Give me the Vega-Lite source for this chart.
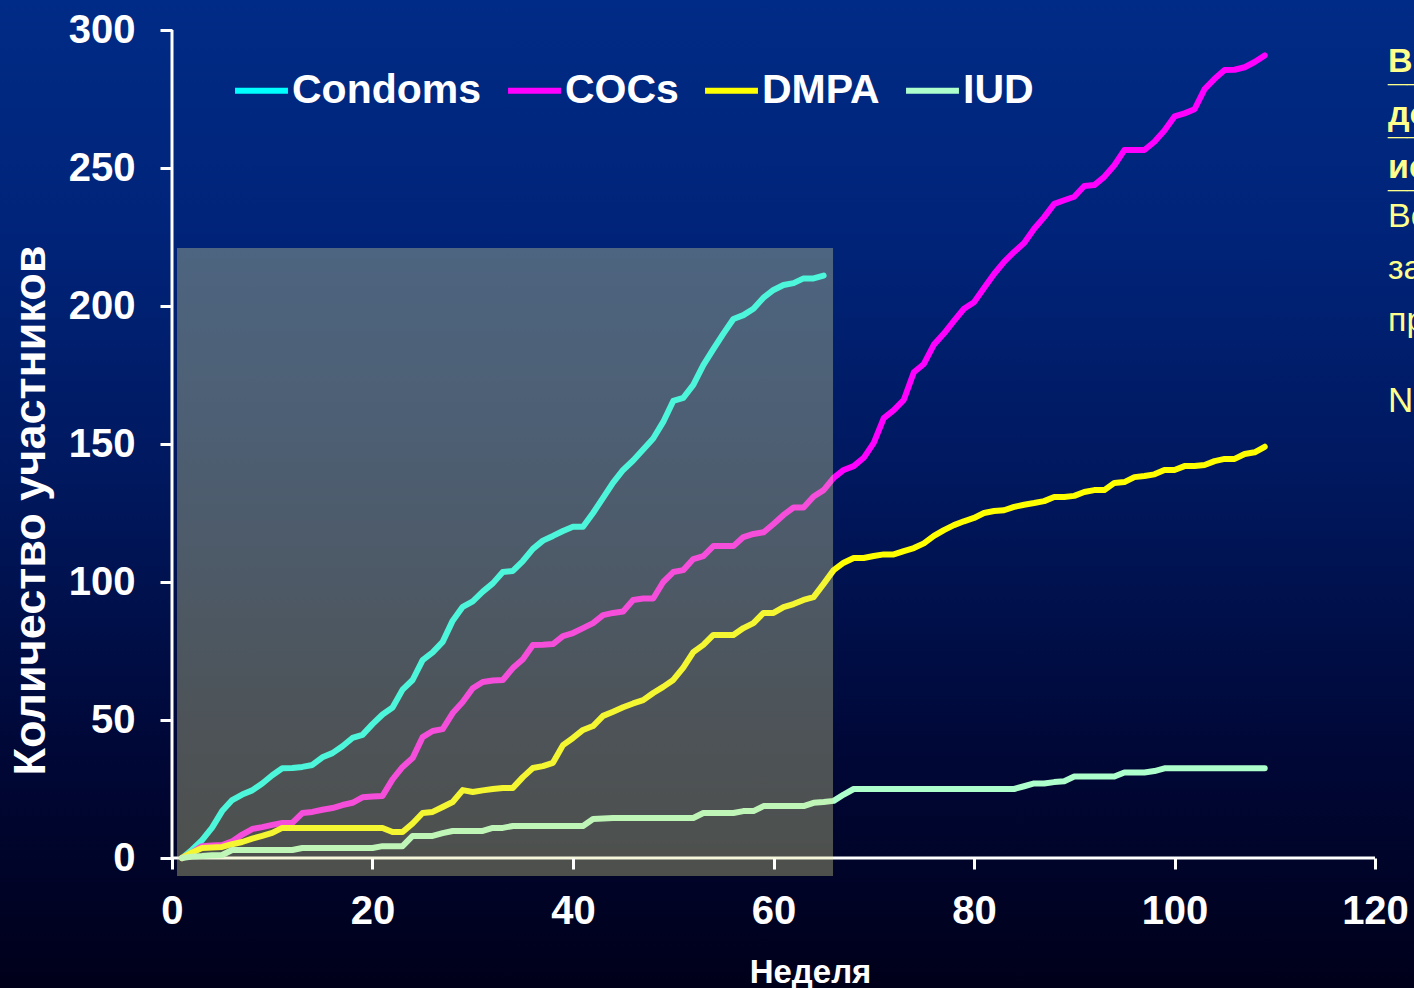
{
  "$schema": "https://vega.github.io/schema/vega-lite/v6.json",
  "width": 1414,
  "height": 988,
  "autosize": {"type": "none"},
  "padding": 0,
  "background": "#000a3a",
  "config": {"view": {"stroke": null}, "font": "Liberation Sans"},
  "datasets": {"weekly": [
    {"week":1,"Condoms":0,"COCs":0,"DMPA":0,"IUD":0},
    {"week":2,"Condoms":3,"COCs":2,"DMPA":2,"IUD":0.5},
    {"week":3,"Condoms":6.5,"COCs":4.3,"DMPA":3.6,"IUD":0.7},
    {"week":4,"Condoms":11,"COCs":4.5,"DMPA":3.8,"IUD":1},
    {"week":5,"Condoms":17,"COCs":4.7,"DMPA":4,"IUD":1.1},
    {"week":6,"Condoms":21,"COCs":6,"DMPA":5,"IUD":2.9},
    {"week":7,"Condoms":23,"COCs":8.5,"DMPA":5.8,"IUD":2.9},
    {"week":8,"Condoms":24.5,"COCs":10.5,"DMPA":7,"IUD":2.9},
    {"week":9,"Condoms":27,"COCs":11.2,"DMPA":8,"IUD":2.9},
    {"week":10,"Condoms":30,"COCs":12,"DMPA":9.1,"IUD":2.9},
    {"week":11,"Condoms":32.5,"COCs":12.7,"DMPA":10.9,"IUD":2.9},
    {"week":12,"Condoms":32.6,"COCs":12.7,"DMPA":10.9,"IUD":2.9},
    {"week":13,"Condoms":33,"COCs":16.3,"DMPA":10.9,"IUD":3.6},
    {"week":14,"Condoms":33.7,"COCs":16.7,"DMPA":10.9,"IUD":3.6},
    {"week":15,"Condoms":36.5,"COCs":17.5,"DMPA":10.9,"IUD":3.6},
    {"week":16,"Condoms":38,"COCs":18.1,"DMPA":10.9,"IUD":3.6},
    {"week":17,"Condoms":40.5,"COCs":19.2,"DMPA":10.9,"IUD":3.6},
    {"week":18,"Condoms":43.5,"COCs":20,"DMPA":10.9,"IUD":3.6},
    {"week":19,"Condoms":44.6,"COCs":22,"DMPA":10.9,"IUD":3.6},
    {"week":20,"Condoms":48.5,"COCs":22.3,"DMPA":10.9,"IUD":3.6},
    {"week":21,"Condoms":52,"COCs":22.5,"DMPA":10.9,"IUD":4.3},
    {"week":22,"Condoms":54.5,"COCs":28.5,"DMPA":9.4,"IUD":4.3},
    {"week":23,"Condoms":61,"COCs":33,"DMPA":9.4,"IUD":4.3},
    {"week":24,"Condoms":64.5,"COCs":36.2,"DMPA":12.5,"IUD":8},
    {"week":25,"Condoms":71.7,"COCs":43.8,"DMPA":16.3,"IUD":8},
    {"week":26,"Condoms":74.5,"COCs":46,"DMPA":16.7,"IUD":8},
    {"week":27,"Condoms":78.3,"COCs":46.7,"DMPA":18.5,"IUD":9},
    {"week":28,"Condoms":86,"COCs":52.5,"DMPA":20.3,"IUD":9.8},
    {"week":29,"Condoms":91,"COCs":56.5,"DMPA":24.6,"IUD":9.8},
    {"week":30,"Condoms":93,"COCs":61.5,"DMPA":23.9,"IUD":9.8},
    {"week":31,"Condoms":96.5,"COCs":63.8,"DMPA":24.5,"IUD":9.8},
    {"week":32,"Condoms":99.5,"COCs":64.3,"DMPA":25,"IUD":10.9},
    {"week":33,"Condoms":103.6,"COCs":64.5,"DMPA":25.4,"IUD":10.9},
    {"week":34,"Condoms":104,"COCs":68.8,"DMPA":25.4,"IUD":11.6},
    {"week":35,"Condoms":107.6,"COCs":72,"DMPA":29.3,"IUD":11.6},
    {"week":36,"Condoms":112,"COCs":77.2,"DMPA":32.6,"IUD":11.6},
    {"week":37,"Condoms":115,"COCs":77.3,"DMPA":33.3,"IUD":11.6},
    {"week":38,"Condoms":116.7,"COCs":77.5,"DMPA":34.5,"IUD":11.6},
    {"week":39,"Condoms":118.5,"COCs":80.4,"DMPA":40.9,"IUD":11.6},
    {"week":40,"Condoms":120,"COCs":81.5,"DMPA":43.5,"IUD":11.6},
    {"week":41,"Condoms":120,"COCs":83.3,"DMPA":46.4,"IUD":11.6},
    {"week":42,"Condoms":125,"COCs":85.1,"DMPA":47.8,"IUD":14.1},
    {"week":43,"Condoms":130.5,"COCs":88,"DMPA":51.5,"IUD":14.3},
    {"week":44,"Condoms":136,"COCs":88.8,"DMPA":53,"IUD":14.5},
    {"week":45,"Condoms":140.6,"COCs":89.3,"DMPA":54.6,"IUD":14.5},
    {"week":46,"Condoms":144,"COCs":93.5,"DMPA":56,"IUD":14.5},
    {"week":47,"Condoms":148,"COCs":94,"DMPA":57.2,"IUD":14.5},
    {"week":48,"Condoms":152,"COCs":94,"DMPA":59.8,"IUD":14.5},
    {"week":49,"Condoms":158,"COCs":100,"DMPA":62,"IUD":14.5},
    {"week":50,"Condoms":165.6,"COCs":103.6,"DMPA":64.5,"IUD":14.5},
    {"week":51,"Condoms":166.7,"COCs":104.3,"DMPA":69,"IUD":14.5},
    {"week":52,"Condoms":171.4,"COCs":108.3,"DMPA":74.6,"IUD":14.5},
    {"week":53,"Condoms":178.6,"COCs":109.4,"DMPA":77.2,"IUD":16.3},
    {"week":54,"Condoms":184.4,"COCs":113,"DMPA":80.8,"IUD":16.3},
    {"week":55,"Condoms":190,"COCs":113,"DMPA":80.8,"IUD":16.3},
    {"week":56,"Condoms":195.3,"COCs":113,"DMPA":80.8,"IUD":16.3},
    {"week":57,"Condoms":196.7,"COCs":116.3,"DMPA":83.3,"IUD":17},
    {"week":58,"Condoms":199,"COCs":117.4,"DMPA":85.1,"IUD":17},
    {"week":59,"Condoms":203,"COCs":118,"DMPA":88.8,"IUD":18.8},
    {"week":60,"Condoms":205.8,"COCs":121,"DMPA":88.8,"IUD":18.8},
    {"week":61,"Condoms":207.6,"COCs":124.3,"DMPA":90.9,"IUD":18.8},
    {"week":62,"Condoms":208.3,"COCs":127,"DMPA":92,"IUD":18.8},
    {"week":63,"Condoms":210,"COCs":127,"DMPA":93.5,"IUD":18.8},
    {"week":64,"Condoms":210,"COCs":131,"DMPA":94.5,"IUD":20},
    {"week":65,"Condoms":211,"COCs":133.3,"DMPA":99.3,"IUD":20.3},
    {"week":66,"COCs":137.7,"DMPA":104.3,"IUD":20.7},
    {"week":67,"COCs":140.6,"DMPA":107,"IUD":23},
    {"week":68,"COCs":142,"DMPA":108.7,"IUD":25},
    {"week":69,"COCs":145,"DMPA":108.7,"IUD":25},
    {"week":70,"COCs":150.4,"DMPA":109.4,"IUD":25},
    {"week":71,"COCs":159.4,"DMPA":110,"IUD":25},
    {"week":72,"COCs":162.3,"DMPA":110,"IUD":25},
    {"week":73,"COCs":166,"DMPA":111.2,"IUD":25},
    {"week":74,"COCs":176,"DMPA":112.3,"IUD":25},
    {"week":75,"COCs":179,"DMPA":114,"IUD":25},
    {"week":76,"COCs":186,"DMPA":116.7,"IUD":25},
    {"week":77,"COCs":190,"DMPA":118.8,"IUD":25},
    {"week":78,"COCs":194.6,"DMPA":120.6,"IUD":25},
    {"week":79,"COCs":199,"DMPA":122,"IUD":25},
    {"week":80,"COCs":201.4,"DMPA":123.2,"IUD":25},
    {"week":81,"COCs":206.5,"DMPA":125,"IUD":25},
    {"week":82,"COCs":211.6,"DMPA":125.7,"IUD":25},
    {"week":83,"COCs":216,"DMPA":126,"IUD":25},
    {"week":84,"COCs":219.6,"DMPA":127.2,"IUD":25},
    {"week":85,"COCs":222.8,"DMPA":128,"IUD":26},
    {"week":86,"COCs":228,"DMPA":128.6,"IUD":27},
    {"week":87,"COCs":232.2,"DMPA":129.3,"IUD":27},
    {"week":88,"COCs":237,"DMPA":130.8,"IUD":27.5},
    {"week":89,"COCs":238.3,"DMPA":130.8,"IUD":27.8},
    {"week":90,"COCs":239.6,"DMPA":131.2,"IUD":29.5},
    {"week":91,"COCs":243.5,"DMPA":132.6,"IUD":29.5},
    {"week":92,"COCs":243.8,"DMPA":133.3,"IUD":29.5},
    {"week":93,"COCs":246.8,"DMPA":133.3,"IUD":29.5},
    {"week":94,"COCs":251,"DMPA":135.9,"IUD":29.5},
    {"week":95,"COCs":256.5,"DMPA":136.2,"IUD":31},
    {"week":96,"COCs":256.5,"DMPA":138,"IUD":31},
    {"week":97,"COCs":256.5,"DMPA":138.4,"IUD":31},
    {"week":98,"COCs":259.5,"DMPA":139,"IUD":31.5},
    {"week":99,"COCs":263.6,"DMPA":140.6,"IUD":32.5},
    {"week":100,"COCs":268.7,"DMPA":140.6,"IUD":32.5},
    {"week":101,"COCs":269.8,"DMPA":142,"IUD":32.5},
    {"week":102,"COCs":271.3,"DMPA":142,"IUD":32.5},
    {"week":103,"COCs":278.6,"DMPA":142.4,"IUD":32.5},
    {"week":104,"COCs":282.3,"DMPA":143.8,"IUD":32.5},
    {"week":105,"COCs":285.5,"DMPA":144.6,"IUD":32.5},
    {"week":106,"COCs":285.6,"DMPA":144.6,"IUD":32.5},
    {"week":107,"COCs":286.5,"DMPA":146.4,"IUD":32.5},
    {"week":108,"COCs":288.4,"DMPA":147,"IUD":32.5},
    {"week":109,"COCs":290.8,"DMPA":149,"IUD":32.5}
  ]},
  "layer": [
    {
      "data": {"values": [{}]},
      "mark": {"type": "rect", "fill": {"gradient": "linear", "x1": 0, "y1": 0, "x2": 0, "y2": 1, "stops": [
        {"offset": 0, "color": "#002b86"},
        {"offset": 0.25, "color": "#002378"},
        {"offset": 0.5, "color": "#00175c"},
        {"offset": 0.75, "color": "#000838"},
        {"offset": 1, "color": "#00001a"}
      ]}},
      "encoding": {}
    },
    {
      "data": {"values": [{}]},
      "mark": {"type": "rule", "color": "#ffffff", "strokeWidth": 3},
      "encoding": {"x": {"datum": 0, "type": "quantitative"}, "x2": {"datum": 120}, "y": {"datum": 0, "type": "quantitative"}}
    },
    {
      "data": {"values": [{}]},
      "mark": {"type": "rule", "color": "#ffffff", "strokeWidth": 3},
      "encoding": {"x": {"datum": 0, "type": "quantitative"}, "y": {"datum": 0, "type": "quantitative"}, "y2": {"datum": 300}}
    },
    {
      "data": {"name": "weekly"},
      "transform": [{"fold": ["Condoms", "COCs", "DMPA", "IUD"], "as": ["method", "count"]}],
      "mark": {"type": "line", "strokeWidth": 6, "strokeCap": "round", "strokeJoin": "round"},
      "encoding": {
        "x": {"field": "week", "type": "quantitative",
          "scale": {"domain": [-17.157, 123.89], "nice": false, "zero": false},
          "axis": {"orient": "bottom", "offset": -130, "values": [0, 20, 40, 60, 80, 100, 120],
            "domain": false, "grid": false, "tickColor": "#ffffff", "tickWidth": 3, "tickSize": 11,
            "labelColor": "#ffffff", "labelFontSize": 40, "labelFontWeight": "bold", "labelPadding": 22,
            "labelOverlap": false, "labelFlush": false,
            "title": "Неделя", "titleColor": "#ffffff", "titleFontSize": 33, "titleFontWeight": "bold",
            "titleX": 810, "titleY": 114, "titleBaseline": "middle", "titleAlign": "center", "zindex": 1}},
        "y": {"field": "count", "type": "quantitative",
          "scale": {"domain": [-47.101, 310.87], "nice": false, "zero": false},
          "axis": {"orient": "left", "offset": -172, "values": [0, 50, 100, 150, 200, 250, 300],
            "domain": false, "grid": false, "tickColor": "#ffffff", "tickWidth": 3, "tickSize": 12,
            "labelColor": "#ffffff", "labelFontSize": 40, "labelFontWeight": "bold", "labelPadding": 25,
            "labelOverlap": false, "labelFlush": false,
            "title": "Количество участников", "titleColor": "#ffffff", "titleFontSize": 45, "titleFontWeight": "bold",
            "titleX": -142, "titleY": 510, "titleAngle": -90, "titleBaseline": "middle", "titleAlign": "center", "zindex": 1}},
        "color": {"field": "method", "type": "nominal",
          "scale": {"domain": ["Condoms", "COCs", "DMPA", "IUD"], "range": ["#00ffff", "#ff00ff", "#ffff00", "#adffcc"]},
          "legend": {"orient": "none", "legendX": 232, "legendY": 61, "direction": "horizontal", "title": null,
            "symbolType": "stroke", "symbolStrokeWidth": 6, "symbolSize": 2800, "labelFontSize": 41,
            "labelFontWeight": "bold", "labelColor": "#ffffff", "labelLimit": 0, "columnPadding": 14, "labelOffset": 1, "padding": 0}}
      }
    },
    {
      "data": {"values": [{}]},
      "mark": {"type": "rect", "fill": "#e2e492", "opacity": 0.34},
      "encoding": {"x": {"datum": 0.5, "type": "quantitative"}, "x2": {"datum": 65.94}, "y": {"datum": -6.5, "type": "quantitative"}, "y2": {"datum": 221}}
    },
    {
      "data": {"values": [{}]},
      "mark": {"type": "text", "align": "left", "baseline": "alphabetic", "fontSize": 34, "fontWeight": "bold", "color": "#ffff8c", "lineHeight": 53},
      "encoding": {"x": {"datum": 121.3, "type": "quantitative"}, "y": {"datum": 284.8, "type": "quantitative"}, "text": {"value": ["Выбывание", "до окончания", "исследования"]}}
    },
    {
      "data": {"values": [{}]},
      "mark": {"type": "text", "align": "left", "baseline": "alphabetic", "fontSize": 34, "fontWeight": "bold", "color": "#ffff8c", "lineHeight": 53, "dy": 9},
      "encoding": {"x": {"datum": 121.3, "type": "quantitative"}, "y": {"datum": 284.8, "type": "quantitative"}, "text": {"value": ["__________", "__________", "__________"]}}
    },
    {
      "data": {"values": [{}]},
      "mark": {"type": "text", "align": "left", "baseline": "alphabetic", "fontSize": 34, "color": "#ffff8c", "lineHeight": 52},
      "encoding": {"x": {"datum": 121.3, "type": "quantitative"}, "y": {"datum": 228.6, "type": "quantitative"}, "text": {"value": ["Всего участников", "завершили", "программу"]}}
    },
    {
      "data": {"values": [{}]},
      "mark": {"type": "text", "align": "left", "baseline": "alphabetic", "fontSize": 35, "color": "#ffff8c"},
      "encoding": {"x": {"datum": 121.3, "type": "quantitative"}, "y": {"datum": 161.6, "type": "quantitative"}, "text": {"value": "N = 1000"}}
    }
  ]
}
